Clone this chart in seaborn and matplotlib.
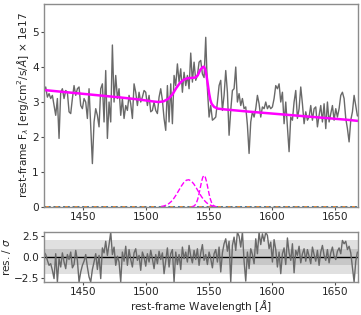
import numpy as np
import pandas as pd
import seaborn as sns
import matplotlib.pyplot as plt

# spectrum: regular wavelength grid
wave_start = 1419.3
wave_step = 1.32

flux = [
    3.28, 3.43, 3.14, 3.24, 3.10, 3.19, 2.90, 2.62, 3.10, 1.96,
    3.28, 3.38, 3.10, 3.33, 3.28, 2.72, 2.67, 3.10, 3.47, 3.19,
    3.38, 3.43, 2.90, 2.81, 3.10, 3.00, 2.53, 3.38, 2.34, 1.24,
    2.43, 2.81, 2.62, 2.29, 3.38, 3.52, 2.43, 3.90, 1.96, 3.00,
    2.43, 4.63, 3.00, 3.76, 3.10, 3.38, 2.62, 3.10, 2.53, 2.90,
    2.76, 3.19, 2.95, 2.53, 3.52, 3.28, 2.90, 3.28, 3.00, 3.14,
    3.33, 3.28, 2.90, 3.19, 2.72, 2.76, 3.00, 2.76, 2.67, 3.14,
    3.38, 3.05, 2.53, 2.19, 3.47, 2.43, 3.52, 2.38, 3.76, 3.47,
    4.09, 3.57, 3.95, 3.28, 3.85, 3.47, 3.76, 3.38, 4.40, 3.57,
    4.14, 3.62, 3.76, 4.14, 4.19,
    3.80, 3.70, 4.85, 3.38, 2.57, 2.90, 2.48, 2.52, 2.57, 3.00,
    3.47, 3.62, 2.76, 3.19, 3.90, 3.28, 2.05, 2.76, 3.33, 3.38,
    4.00, 3.00, 3.24, 2.90, 3.10, 2.81, 2.86, 2.34, 1.53, 2.43,
    2.72, 2.57, 2.81, 3.19, 2.95, 2.57, 2.86, 2.81, 3.00, 2.81,
    2.90, 2.81, 2.86, 3.10, 3.47, 3.38, 3.52, 3.00, 3.28, 2.38,
    3.00, 2.29, 1.58, 2.57, 2.48, 3.00, 3.33, 2.53, 2.81, 3.43,
    2.95, 2.38, 2.72, 2.48, 2.57, 2.90, 2.48, 2.81, 2.86, 2.29,
    2.62, 2.90, 2.43, 2.95, 2.24, 3.00, 2.43, 2.67, 2.90, 2.48,
    2.81, 2.57, 2.81, 3.19, 3.28, 3.10, 2.53, 2.24, 1.86, 2.48,
    2.72, 3.19, 2.90, 2.60,
]

resid = [
    0.6, 0.3, -0.4, -1.0, -0.8, -1.6, -2.6, 0.4, -3.0, -0.2,
    -1.2, 0.5, -0.6, -1.4, 0.3, -0.3, 0.6, -1.3, -0.9, 0.8,
    -0.4, -3.0, -1.8, -1.0, -0.5, 0.3, -1.2, -2.4, -3.0, -1.5,
    -0.6, 0.4, -1.5, 0.2, -2.6, 1.1, 0.5, 1.9, 0.2, 1.5,
    3.0, 0.3, 1.2, -1.0, 0.1, -0.6, -3.0, 0.6, -0.5, 1.3,
    -1.0, 0.9, -0.3, -1.2, 0.5, 1.0, -0.4, 0.2, -1.6, 0.6,
    0.0, -1.1, 0.4, -0.6, 0.8, -0.2, -1.4, 0.3, -0.8, 0.7,
    -0.3, 0.5, -2.0, -0.5, 1.1, -1.2, 0.4, 0.9, -3.0, 0.6,
    -0.9, 0.3, -1.5, 1.2, -0.2, 0.6, -0.6, 1.4, 0.1, -0.7,
    0.8, -0.3, 1.0, -1.0, 0.5, 1.5, -0.4, 0.3, -0.9, 0.6,
    -0.2, -1.3, 0.4, 0.9, -0.6, 1.2, -1.8, 0.5, 1.6, 2.2,
    0.7, 1.9, -3.0, 1.4, 2.4, 0.8, 3.0, 2.5, 1.2, 3.0,
    -0.5, -2.9, 0.6, -1.4, 1.0, 0.3, -0.8, 2.2, 0.4, 3.0,
    1.5, 2.8, 1.9, 3.0, 2.6, 1.0, 1.8, -0.6, 2.1, 0.9,
    -1.2, 0.6, -2.0, 0.4, 1.1, -0.9, 2.3, 0.5, -0.4, 1.6,
    -1.9, 0.8, 0.2, 1.3, -0.7, 0.4, 1.0, -0.5, 0.9, 0.1,
    -0.8, 1.2, 0.3, -0.5, 0.8, -1.0, 0.6, 1.4, 0.2, -0.4,
    0.9, -0.7, 0.5, 1.2, 0.1, -0.3, 0.7, 1.1, 0.4, 2.0,
    1.6, 1.9, 0.9, 1.3, 0.5, -1.2, -3.0, -0.5, 0.6,
]

# total model
model_wave = [1420, 1440, 1460, 1480, 1495, 1505, 1510, 1514, 1518, 1521,
              1524, 1527, 1530, 1533, 1536, 1539, 1541, 1543, 1545, 1546,
              1547, 1548, 1549, 1550, 1551, 1552, 1554, 1557, 1562, 1580,
              1600, 1620, 1640, 1660, 1668]
model_flux = [3.34, 3.27, 3.20, 3.13, 3.07, 3.02, 3.00, 3.02, 3.10, 3.22,
              3.40, 3.55, 3.64, 3.68, 3.69, 3.70, 3.76, 3.92, 4.00, 4.01,
              3.93, 3.75, 3.50, 3.25, 3.06, 2.95, 2.86, 2.81, 2.79, 2.73,
              2.67, 2.61, 2.55, 2.49, 2.46]

# broad and narrow line components
broad_wave = [1512, 1514, 1516, 1518, 1520, 1522, 1524, 1526, 1528, 1530,
              1532, 1534, 1536, 1538, 1540, 1542, 1544, 1546, 1548, 1550,
              1552, 1554, 1556]
broad_flux = [0.013, 0.027, 0.051, 0.092, 0.154, 0.241, 0.350, 0.473, 0.596, 0.699,
              0.765, 0.778, 0.738, 0.652, 0.536, 0.411, 0.293, 0.195, 0.120, 0.069,
              0.037, 0.019, 0.009]
narrow_wave = [1536, 1538, 1539, 1540, 1541, 1542, 1543, 1544, 1545, 1546,
               1547, 1548, 1549, 1550, 1551, 1552, 1553, 1554, 1556]
narrow_flux = [0.003, 0.026, 0.059, 0.122, 0.224, 0.370, 0.546, 0.721, 0.851, 0.900,
               0.851, 0.721, 0.546, 0.370, 0.224, 0.122, 0.059, 0.026, 0.003]

wave = wave_start + wave_step * np.arange(len(flux))
spec = pd.DataFrame({"wave": wave, "flux": flux, "resid": resid[:len(flux)],
                     "zero": np.zeros(len(flux))})

sns.set_style("ticks")
plt.rcParams["font.size"] = 7.6

fig = plt.figure(figsize=(3.61, 3.15), dpi=100)
ax1 = fig.add_axes([0.122, 0.343, 0.870, 0.644])
ax2 = fig.add_axes([0.122, 0.105, 0.870, 0.158])

# top panel
sns.lineplot(data=spec, x="wave", y="zero", color="tab:orange", lw=1.3,
             ls="--", ax=ax1)
sns.lineplot(data=spec, x="wave", y="zero", color="tab:blue", lw=1.3,
             ls=":", ax=ax1)
sns.lineplot(data=spec, x="wave", y="flux", color="dimgray", lw=1.0,
             estimator=None, ax=ax1)
sns.lineplot(x=broad_wave, y=broad_flux, color="magenta", lw=1.0, ls="--", ax=ax1)
sns.lineplot(x=narrow_wave, y=narrow_flux, color="magenta", lw=1.0, ls="--", ax=ax1)
sns.lineplot(x=model_wave, y=model_flux, color="magenta", lw=1.8, ax=ax1)

ax1.set_xlim(1419.3, 1668)
ax1.set_ylim(0, 5.8)
ax1.set_xlabel("")
ax1.set_ylabel(r"rest-frame F$_\lambda$ [erg/cm$^2$/s/$\AA$] $\times$ 1e17",
               labelpad=1)

# residual panel
ax2.axhspan(-2, 2, color="0.88", lw=0)
ax2.axhspan(-1, 1, color="0.78", lw=0)
ax2.axhline(0, color="black", lw=1)
sns.lineplot(data=spec, x="wave", y="resid", color="dimgray", lw=1.0,
             estimator=None, ax=ax2)
ax2.set_xlim(1419.3, 1668)
ax2.set_ylim(-3, 3)
ax2.set_yticks([-2.5, 0.0, 2.5])
ax2.set_ylabel(r"res. / $\sigma$")
ax2.yaxis.set_label_coords(-0.1, 0.5)
ax2.set_xlabel(r"rest-frame Wavelength [$\AA$]", labelpad=1)

for ax in (ax1, ax2):
    ax.set_xticks([1450, 1500, 1550, 1600, 1650])
    ax.tick_params(labelsize=7.6, length=2.5, width=0.8, pad=1.2, color="0.3")
    for sp in ax.spines.values():
        sp.set_color("0.55")
        sp.set_linewidth(1.0)

fig.savefig("out.png", dpi=100)
